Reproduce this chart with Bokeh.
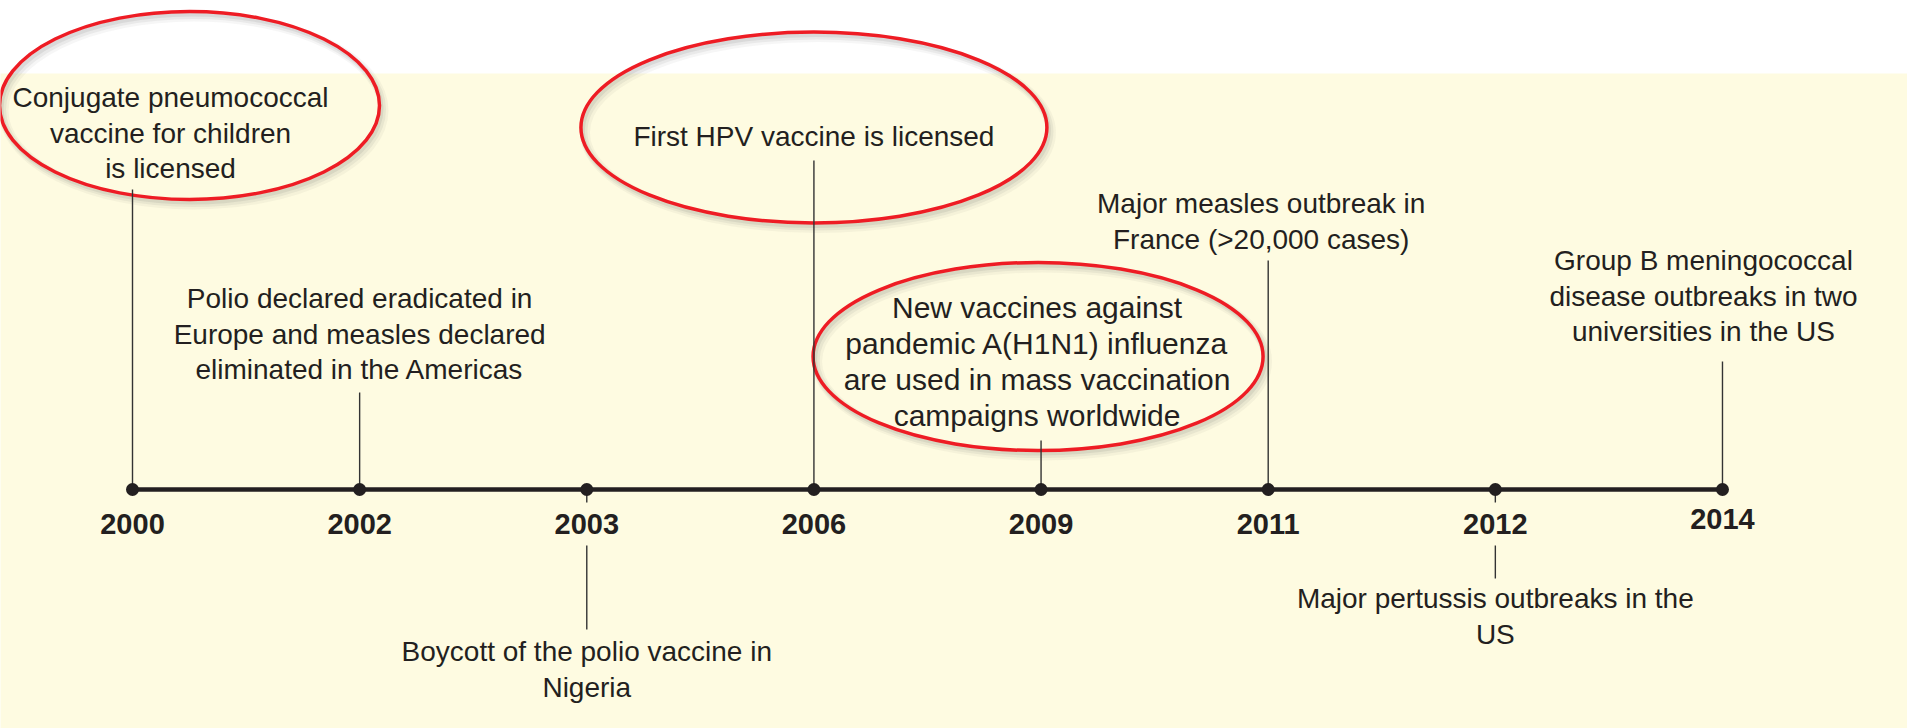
from bokeh.plotting import figure
from bokeh.models import Range1d, ColumnDataSource
from bokeh.core.properties import value
from bokeh.embed import file_html
from bokeh.resources import INLINE

# ---------------- data ----------------
years = ["2000", "2002", "2003", "2006", "2009", "2011", "2012", "2014"]
events = [
    "Conjugate pneumococcal\nvaccine for children\nis licensed",
    "Polio declared eradicated in\nEurope and measles declared\neliminated in the Americas",
    "Boycott of the polio vaccine in\nNigeria",
    "First HPV vaccine is licensed",
    "New vaccines against\npandemic A(H1N1) influenza\nare used in mass vaccination\ncampaigns worldwide",
    "Major measles outbreak in\nFrance (>20,000 cases)",
    "Major pertussis outbreaks in the\nUS",
    "Group B meningococcal\ndisease outbreaks in two\nuniversities in the US",
]
side = ["above", "above", "below", "above", "above", "above", "below", "above"]
highlighted = [True, False, False, True, True, False, False, False]

# ---------------- layout / style ----------------
W, H = 1907, 728
PX = 227.14            # pixels per event step
X0 = 132               # pixel of first event
TL_Y = 489             # timeline y (pixels from top)
INK = "#231F20"
CREAM = "#FEFBE1"
RED = "#EE1C24"

label_dx = [38, 0, 0, 0, -4, -7, 0, -19]
label_y0 = [97, 298, 651, 136, 307, 203, 598, 260]
label_regular = [False, False, False, False, True, False, False, False]
year_y = [523, 523, 523, 523, 523, 523, 523, 518]
conn_y0 = [189, 392, 545, 160, 440, 260, 545, 361]
conn_y1 = [TL_Y, TL_Y, 629, TL_Y, TL_Y, TL_Y, 578, TL_Y]
ell_geom = {0: (57, 105, 380, 188), 3: (0, 127, 466, 191), 4: (-3, 356, 450, 188)}

n = len(years)
xs = list(range(n))
x_start = -X0 / PX
x_end = x_start + W / PX
p = figure(width=W, height=H, output_backend="svg", toolbar_location=None,
           x_range=Range1d(x_start, x_end), y_range=Range1d(H, 0), min_border=0)
p.axis.visible = False
p.grid.visible = False
p.outline_line_color = None
p.background_fill_color = "white"
p.border_fill_color = "white"

# cream panel
p.quad(left=[x_start - 1], right=[x_end + 1], top=[73], bottom=[H + 10],
       fill_color=CREAM, line_color=None)

# highlight ellipses (shadow + red ring)
ex, ey, ew, eh = [], [], [], []
for i in range(n):
    if highlighted[i]:
        dx, cy, w, h = ell_geom[i]
        ex.append(xs[i] + dx / PX); ey.append(cy); ew.append(w); eh.append(h)
for off, lw, a in [(4, 10, 0.06), (3, 7, 0.09), (2, 4, 0.12)]:
    p.ellipse(x=[v + off / PX for v in ex], y=[v + off + 1 for v in ey], width=ew, height=eh,
              width_units="screen", height_units="screen", fill_color=None,
              line_color="#6b6b6b", line_alpha=a, line_width=lw)
p.ellipse(x=ex, y=ey, width=ew, height=eh, width_units="screen", height_units="screen",
          fill_color=None, line_color=RED, line_width=3.5)

# connectors
p.segment(x0=xs, y0=conn_y0, x1=xs, y1=conn_y1, line_color="#333333", line_width=1.4)
below = [i for i in range(n) if side[i] == "below"]
p.segment(x0=below, y0=[TL_Y] * len(below), x1=below, y1=[TL_Y + 13] * len(below),
          line_color="#333333", line_width=1.4)

# timeline
p.line(x=[xs[0], xs[-1]], y=[TL_Y, TL_Y], line_color=INK, line_width=4.5)
p.scatter(x=xs, y=[TL_Y] * n, size=13, fill_color=INK, line_color=None)

# year labels
p.text(x=xs, y=year_y, text=years, text_font=value("Liberation Sans"),
       text_font_style="bold", text_font_size="29px", text_color=INK,
       text_align="center", text_baseline="middle")

# event labels, one row per line
for regular in (False, True):
    lx, ly, lt, lo = [], [], [], []
    spacing = 36 if regular else 35.5
    for i in range(n):
        if label_regular[i] != regular:
            continue
        for k, line in enumerate(events[i].split("\n")):
            lx.append(xs[i]); ly.append(label_y0[i] + k * spacing)
            lt.append(line); lo.append(label_dx[i])
    src = ColumnDataSource(dict(x=lx, y=ly, t=lt, o=lo))
    p.text(x="x", y="y", text="t", x_offset="o", source=src,
           text_font=value("Liberation Sans"),
           text_font_size="30px" if regular else "28px", text_color=INK,
           text_align="center", text_baseline="middle")

open("out.html", "w").write(file_html(p, INLINE))
